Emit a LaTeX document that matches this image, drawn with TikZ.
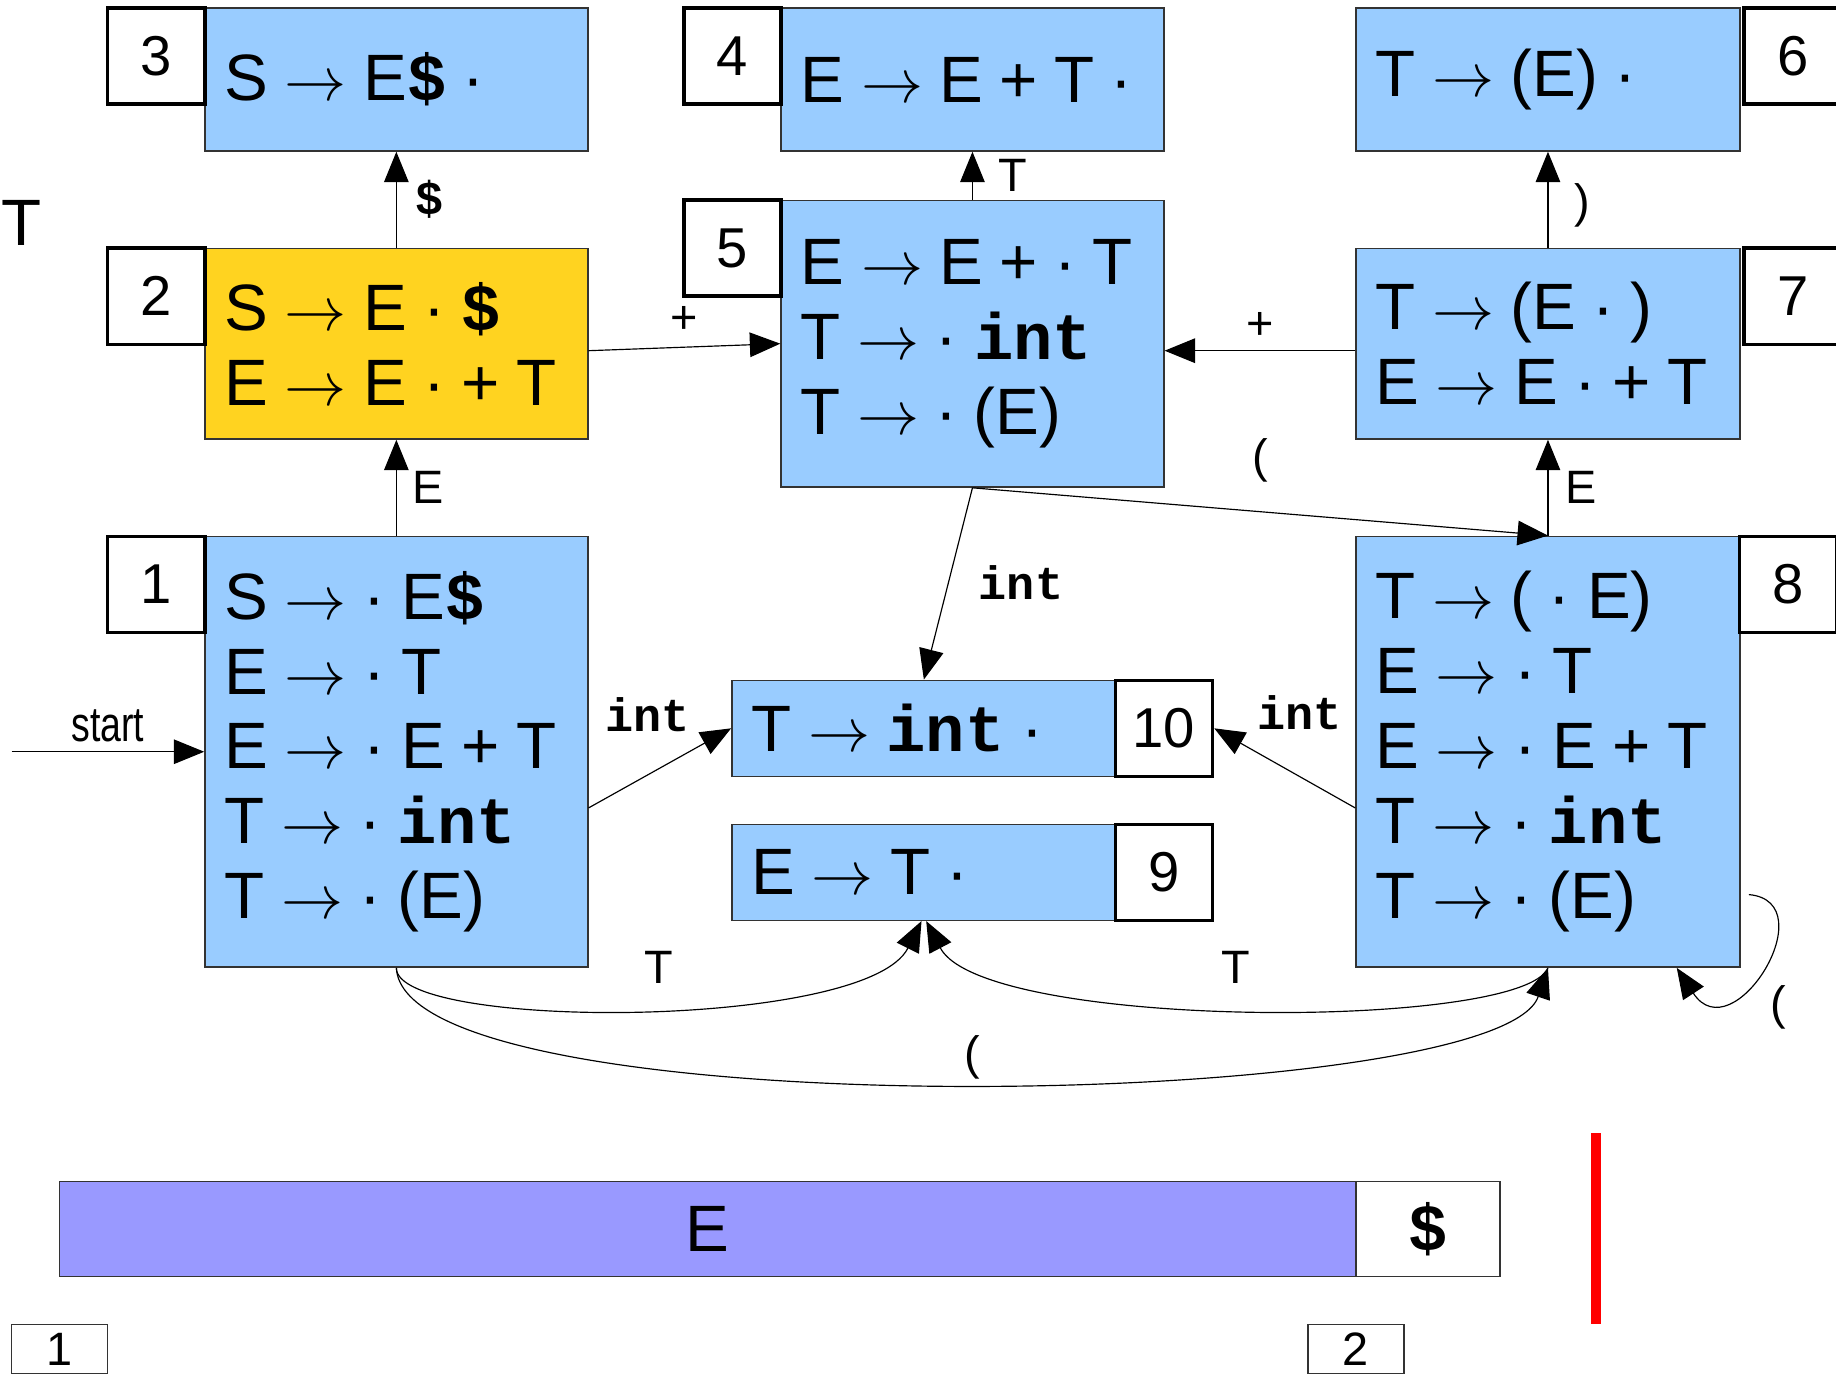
\documentclass[tikz,border=0pt]{standalone}
\usepackage{fontspec}
\usepackage{graphicx}
\setmainfont{Liberation Sans}
\setmonofont{Liberation Mono}
\usetikzlibrary{arrows.meta}
\definecolor{boxblue}{HTML}{99CCFF}
\definecolor{boxyellow}{HTML}{FFD320}
\definecolor{barpurple}{HTML}{9999FF}
\definecolor{edgegray}{HTML}{333333}
\newcommand\ra{\scalebox{5.3}{\normalsize$\rightarrow$}}
\newcommand\dt{·}
\newcommand\kw[1]{{\ttfamily\bfseries #1}}
\newcommand\itemfont{\fontsize{56}{64}\selectfont}
\newcommand\tightspace{\spaceskip=14pt\relax}
\tikzset{
  item/.style={draw=edgegray, line width=1.2pt, fill=boxblue, align=left,
    inner xsep=17pt, inner ysep=0pt, anchor=center,
    font=\itemfont, execute at begin node=\tightspace},
  numbox/.style={draw=black, line width=3pt, fill=white, minimum width=83pt,
    minimum height=82pt, inner sep=0pt, font=\fontsize{48}{56}\selectfont},
  smallnum/.style={draw=edgegray, line width=1pt, fill=white, minimum width=82pt,
    minimum height=42pt, inner sep=0pt, font=\fontsize{40}{48}\selectfont},
  edge/.style={draw=black, line width=1pt, -{Triangle[length=26pt,width=21pt]}},
  lbl/.style={inner sep=0pt, font=\fontsize{40}{48}\selectfont},
}
\begin{document}
\begin{tikzpicture}[x=1pt,y=-1pt]
\useasboundingbox (0,0) rectangle (1568,1173);
\clip (0,0) rectangle (1568,1173);
% item boxes
\node[item, minimum width=327pt, minimum height=122pt, text width=293pt] (b3) at (338.5,68) {S \ra{} E\kw{\$} \dt};
\node[item, minimum width=327pt, minimum height=122pt, text width=293pt] (b4) at (830.5,68) {E \ra{} E + T \dt};
\node[item, minimum width=328pt, minimum height=122pt, text width=294pt] (b6) at (1322,68) {T \ra{} (E) \dt};
\node[item, fill=boxyellow, minimum width=327pt, minimum height=163pt, text width=293pt] (b2) at (338.5,293.5) {S \ra{} E \dt{} \kw{\$}\\E \ra{} E \dt{} + T};
\node[item, minimum width=327pt, minimum height=245pt, text width=293pt] (b5) at (830.5,293.5) {E \ra{} E + \dt{} T\\T \ra{} \dt{} \kw{int}\\T \ra{} \dt{} (E)};
\node[item, minimum width=328pt, minimum height=163pt, text width=294pt] (b7) at (1322,293.5) {T \ra{} (E \dt{} )\\E \ra{} E \dt{} + T};
\node[item, minimum width=327pt, minimum height=368pt, text width=293pt] (b1) at (338.5,642) {S \ra{} \dt{} E\kw{\$}\\E \ra{} \dt{} T\\E \ra{} \dt{} E + T\\T \ra{} \dt{} \kw{int}\\T \ra{} \dt{} (E)};
\node[item, minimum width=328pt, minimum height=368pt, text width=294pt] (b8) at (1322,642) {T \ra{} ( \dt{} E)\\E \ra{} \dt{} T\\E \ra{} \dt{} E + T\\T \ra{} \dt{} \kw{int}\\T \ra{} \dt{} (E)};
\node[item, minimum width=328pt, minimum height=82pt, text width=294pt] (b10) at (789,622) {T \ra{} \kw{int} \dt};
\node[item, minimum width=328pt, minimum height=82pt, text width=294pt] (b9) at (789,745) {E \ra{} T \dt};
% number boxes
\node[numbox] (n3) at (133.5,48) {3};
\node[numbox] (n4) at (625.5,48) {4};
\node[numbox] (n6) at (1531,48) {6};
\node[numbox] (n2) at (133.5,253) {2};
\node[numbox] (n5) at (625.5,212) {5};
\node[numbox] (n7) at (1531,253) {7};
\node[numbox] (n1) at (133.5,499) {1};
\node[numbox] (n8) at (1527,499) {8};
\node[numbox] (n10) at (994,622) {10};
\node[numbox] (n9) at (994,745) {9};
% stray T
\node[inner sep=0pt, font=\itemfont] (tT) at (18,190) {T};
% start
\coordinate (s0) at (10,642);
\draw[edge] (s0) -- (b1.west);
\node[lbl] (lstart) at (92,620) {\scalebox{0.8}[1.05]{start}};
% straight edges
\draw[edge] (b2.north) -- (b3.south);
\draw[edge] (b1.north) -- (b2.south);
\draw[edge] (b5.north) -- (b4.south);
\draw[edge] (b7.north) -- (b6.south);
\draw[edge] (b8.north) -- (b7.south);
\draw[edge] ([yshift=-6pt]b2.east) -- (b5.west);
\draw[edge] ([yshift=-6pt]b7.west) -- ([yshift=-6pt]b5.east);
\draw[edge] (b5.south) -- (b8.north);
\draw[edge] (b5.south) -- (b10.north);
\draw[edge] ([yshift=-48pt]b1.east) -- (b10.west);
\draw[edge] ([yshift=-48pt]b8.west) -- (n10.east);
% curved edges
\draw[edge] (b1.south) .. controls (338,880) and (740,880) .. ([xshift=-2pt]b9.south);
\draw[edge] (b8.south) .. controls (1300,880) and (840,880) .. ([xshift=2pt]b9.south);
\draw[edge] (b1.south) .. controls (345,965) and (1280,950) .. (b8.south);
\draw[edge] ([xshift=7pt,yshift=-122pt]b8.east) .. controls (1560,770) and (1480,900) .. ([xshift=110pt]b8.south);
% edge labels
\node[lbl] (l23) at (367,170) {\kw{\$}};
\node[lbl] (l12) at (366,416) {E};
\node[lbl] (l54) at (865,150) {T};
\node[lbl] (l76) at (1351,175) {)};
\node[lbl] (l87) at (1350,416) {E};
\node[lbl] (l25) at (584,273) {+};
\node[lbl] (l75) at (1076,278) {+};
\node[lbl] (l58) at (1076,393) {(};
\node[lbl] (l510) at (872,498) {\kw{int}};
\node[lbl] (l110) at (553,610) {\kw{int}};
\node[lbl] (l810) at (1110,609) {\kw{int}};
\node[lbl] (l19) at (563,826) {T};
\node[lbl] (l89) at (1055,826) {T};
\node[lbl] (l18) at (830,903) {(};
\node[lbl] (l88) at (1519,860) {(};
% bottom bar
\node[draw=edgegray, line width=1.2pt, fill=barpurple, minimum width=1107pt, minimum height=81pt, inner sep=0pt, font=\itemfont] (ebar) at (604.5,1049.5) {E};
\node[draw=edgegray, line width=1.2pt, fill=white, minimum width=123pt, minimum height=81pt, inner sep=0pt, font=\itemfont] (dbar) at (1219.5,1049.5) {\kw{\$}};
\draw[red, line width=8pt] (1363,968) -- (1363,1131);
\node[smallnum] (p1) at (51,1152) {1};
\node[smallnum] (p2) at (1158,1152) {2};
\end{tikzpicture}
\end{document}
